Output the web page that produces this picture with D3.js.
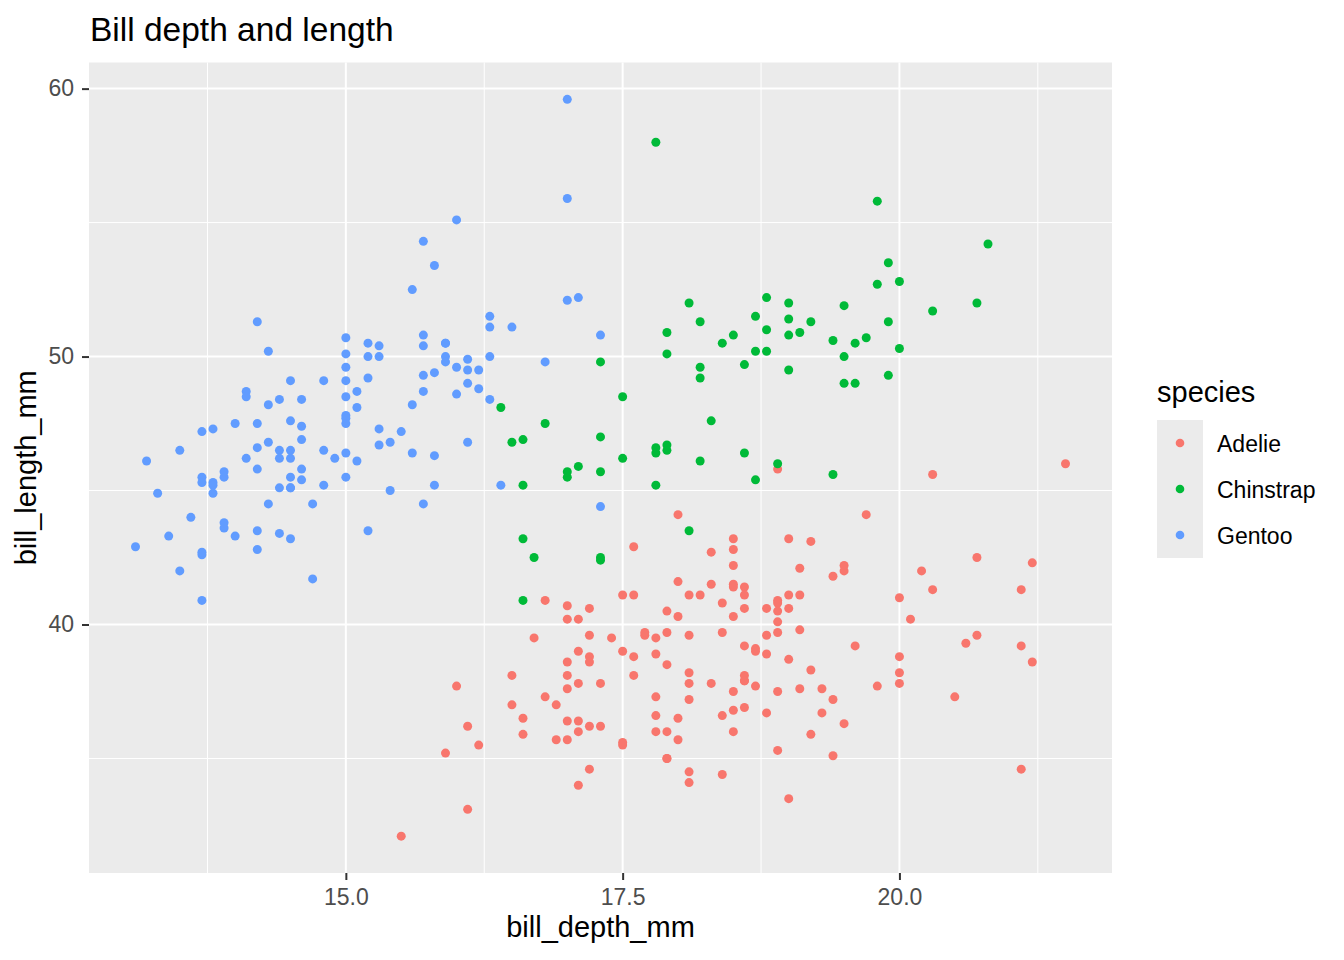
<!DOCTYPE html>
<html>
<head>
<meta charset="utf-8">
<script src="https://cdn.jsdelivr.net/npm/d3@7"></script>
<style>
  body { margin: 0; background: #fff; }
  svg text { font-family: "Liberation Sans", Arial, sans-serif; }
</style>
</head>
<body>
<div id="chart"></div>
<script>
var w = 1344, h = 960;

// Penguin measurements, [bill_depth_mm, bill_length_mm]
var adelie = [
  [18.7,39.1],[17.4,39.5],[18.0,40.3],[19.3,36.7],[20.6,39.3],[17.8,38.9],[19.6,39.2],[18.1,34.1],
  [20.2,42.0],[17.1,37.8],[17.3,37.8],[17.6,41.1],[21.2,38.6],[21.1,34.6],[17.8,36.6],[19.0,38.7],
  [20.7,42.5],[18.4,34.4],[21.5,46.0],[18.3,37.8],[18.7,37.7],[19.2,35.9],[18.1,38.2],[17.2,38.8],
  [18.9,35.3],[18.6,40.6],[17.9,40.5],[18.6,37.9],[18.9,40.5],[16.7,39.5],[18.1,37.2],[17.8,39.5],
  [18.9,40.9],[17.0,36.4],[21.1,39.2],[20.0,38.8],[18.5,42.2],[19.3,37.6],[19.1,39.8],[18.0,36.5],
  [18.4,40.8],[18.5,36.0],[19.7,44.1],[16.9,37.0],[18.8,39.6],[19.0,41.1],[18.9,37.5],[17.9,36.0],
  [21.2,42.3],[17.7,39.6],[18.9,40.1],[17.9,35.0],[19.5,42.0],[18.1,34.5],[18.6,41.4],[17.5,39.0],
  [18.8,40.6],[16.6,36.5],[19.1,37.6],[16.9,35.7],[21.1,41.3],[17.0,37.6],[18.2,41.1],[17.1,36.4],
  [18.0,41.6],[16.2,35.5],[19.1,41.1],[16.6,35.9],[19.4,41.8],[19.0,33.5],[18.4,39.7],[17.2,39.6],
  [18.9,45.8],[17.5,35.5],[18.5,42.8],[16.8,40.9],[19.4,37.2],[16.1,36.2],[19.1,42.1],[17.2,34.6],
  [17.6,42.9],[18.8,36.7],[19.4,35.1],[17.8,37.3],[20.3,41.3],[19.5,36.3],[18.6,36.9],[19.2,38.3],
  [18.8,38.9],[18.0,35.7],[18.1,41.1],[17.1,34.0],[18.1,39.6],[17.3,36.2],[18.9,40.8],[18.6,38.1],
  [18.5,40.3],[16.1,33.1],[18.5,43.2],[17.9,35.0],[20.0,41.0],[16.0,37.7],[20.0,37.8],[18.6,37.9],
  [18.9,39.7],[17.2,38.6],[20.0,38.2],[17.0,38.1],[19.0,43.2],[16.5,38.1],[20.3,45.6],[17.7,39.7],
  [19.5,42.2],[20.7,39.6],[18.3,42.7],[17.0,38.6],[20.5,37.3],[17.0,35.7],[18.6,41.1],[17.2,36.2],
  [19.8,37.7],[17.0,40.2],[18.5,41.4],[15.9,35.2],[19.0,40.6],[17.6,38.8],[18.3,41.5],[17.1,39.0],
  [18.0,44.1],[17.9,38.5],[19.2,43.1],[18.5,36.8],[18.5,37.5],[17.6,38.1],[17.5,41.1],[17.5,35.6],
  [20.1,40.2],[16.5,37.0],[17.9,39.7],[17.1,40.2],[17.2,40.6],[15.5,32.1],[17.0,40.7],[16.8,37.3],
  [18.7,39.0],[18.6,39.2],[18.4,36.6],[17.8,36.0],[18.1,37.8],[17.1,36.0],[18.5,41.5]
];

var chinstrap = [
  [17.9,46.5],[19.5,50.0],[19.2,51.3],[18.7,45.4],[19.8,52.7],[17.8,45.2],[18.2,46.1],[18.2,51.3],
  [18.9,46.0],[19.9,51.3],[17.8,46.6],[20.3,51.7],[17.3,47.0],[18.1,52.0],[17.1,45.9],[19.6,50.5],
  [20.0,50.3],[17.8,58.0],[18.6,46.4],[18.2,49.2],[17.3,42.4],[17.5,48.5],[16.6,43.2],[19.4,50.6],
  [17.9,46.7],[19.0,52.0],[18.4,50.5],[19.0,49.5],[17.8,46.4],[20.0,52.8],[16.6,40.9],[20.8,54.2],
  [16.7,42.5],[18.8,51.0],[18.6,49.7],[16.8,47.5],[18.3,47.6],[20.7,52.0],[16.6,46.9],[19.9,53.5],
  [19.5,49.0],[17.5,46.2],[19.1,50.9],[17.0,45.5],[17.9,50.9],[18.5,50.8],[17.9,50.1],[19.6,49.0],
  [18.7,51.5],[17.3,49.8],[16.4,48.1],[19.0,51.4],[17.3,45.7],[19.7,50.7],[17.3,42.5],[18.8,52.2],
  [16.6,45.2],[19.9,49.3],[18.8,50.2],[19.4,45.6],[19.5,51.9],[16.5,46.8],[17.0,45.7],[19.8,55.8],
  [18.1,43.5],[18.2,49.6],[19.0,50.8],[18.7,50.2]
];

var gentoo = [
  [13.2,46.1],[16.3,50.0],[14.1,48.7],[15.2,50.0],[14.5,47.6],[13.5,46.5],[14.6,45.4],[15.3,46.7],
  [13.4,43.3],[15.4,46.8],[13.7,40.9],[16.1,49.0],[13.7,45.5],[14.6,48.4],[14.6,45.8],[15.7,49.3],
  [13.5,42.0],[15.2,49.2],[14.5,46.2],[15.1,48.7],[14.3,50.2],[14.5,45.1],[14.5,46.5],[15.8,46.3],
  [13.1,42.9],[15.1,46.1],[14.3,44.5],[15.0,47.8],[14.3,48.2],[15.3,50.0],[15.3,47.3],[14.2,42.8],
  [14.5,45.1],[17.0,59.6],[14.8,49.1],[16.3,48.4],[13.7,42.6],[17.3,44.4],[13.6,44.0],[15.7,48.7],
  [13.7,42.7],[16.0,49.6],[13.7,45.3],[15.0,49.6],[15.9,50.5],[13.9,43.6],[13.9,45.5],[15.9,50.5],
  [13.3,44.9],[15.8,45.2],[14.2,46.6],[14.1,48.5],[14.4,45.1],[15.0,50.1],[14.4,46.5],[15.4,45.0],
  [13.9,43.8],[15.0,45.5],[14.5,43.2],[15.3,50.4],[13.8,45.3],[14.9,46.2],[13.9,45.7],[15.7,54.3],
  [14.2,45.8],[16.8,49.8],[14.4,46.2],[16.2,49.5],[14.2,43.5],[15.0,50.7],[15.0,47.7],[15.6,46.4],
  [15.6,48.2],[14.8,46.5],[15.0,46.4],[16.0,48.6],[14.2,47.5],[16.3,51.1],[13.8,45.2],[16.4,45.2],
  [14.5,49.1],[15.6,52.5],[14.6,47.4],[15.9,50.0],[13.8,44.9],[17.3,50.8],[14.4,43.4],[14.2,51.3],
  [14.0,47.5],[17.0,52.1],[15.0,47.5],[17.1,52.2],[14.5,45.5],[16.1,49.5],[14.7,44.5],[15.7,50.8],
  [15.8,49.4],[14.6,46.9],[14.4,48.4],[16.5,51.1],[15.0,48.5],[17.0,55.9],[15.5,47.2],[15.0,49.1],
  [13.8,47.3],[16.1,46.8],[14.7,41.7],[15.8,53.4],[14.0,43.3],[15.1,48.1],[15.2,50.5],[15.9,49.8],
  [15.2,43.5],[16.3,51.5],[14.1,46.2],[16.0,55.1],[15.7,44.5],[16.2,48.8],[13.7,47.2],[14.3,46.8],
  [15.7,50.4],[14.8,45.2],[16.1,49.9]
];

var species = ["Adelie", "Chinstrap", "Gentoo"];
var speciesData = [adelie, chinstrap, gentoo];
var xTicks = [15.0, 17.5, 20.0];
var yTicks = [40, 50, 60];

var panel = { left: 89, right: 1112, top: 62.5, bottom: 873 };

var color = d3.scaleOrdinal()
  .domain(species)
  .range(["#F8766D", "#00BA38", "#619CFF"]);

// ggplot style 5% expansion around the data range
var all = d3.merge(speciesData);
var xExt = d3.extent(all, function(d) { return d[0]; });
var yExt = d3.extent(all, function(d) { return d[1]; });
var xPad = (xExt[1] - xExt[0]) * 0.05, yPad = (yExt[1] - yExt[0]) * 0.05;

var x = d3.scaleLinear()
  .domain([xExt[0] - xPad, xExt[1] + xPad])
  .range([panel.left, panel.right]);
var y = d3.scaleLinear()
  .domain([yExt[0] - yPad, yExt[1] + yPad])
  .range([panel.bottom, panel.top]);

var svg = d3.select("#chart")
  .append("svg")
  .attr("width", w)
  .attr("height", h);

// Panel background
svg.append("rect")
  .attr("x", panel.left)
  .attr("y", panel.top)
  .attr("width", panel.right - panel.left)
  .attr("height", panel.bottom - panel.top)
  .attr("fill", "#EBEBEB");

// Minor grid lines sit halfway between the major ones
var xMinor = [13.75, 16.25, 18.75, 21.25];
var yMinor = [35, 45, 55];

var grid = svg.append("g");
grid.selectAll(".xminor").data(xMinor).enter().append("line")
  .attr("x1", function(d) { return x(d); }).attr("x2", function(d) { return x(d); })
  .attr("y1", panel.top).attr("y2", panel.bottom)
  .attr("stroke", "#fff").attr("stroke-width", 1);
grid.selectAll(".yminor").data(yMinor).enter().append("line")
  .attr("y1", function(d) { return y(d); }).attr("y2", function(d) { return y(d); })
  .attr("x1", panel.left).attr("x2", panel.right)
  .attr("stroke", "#fff").attr("stroke-width", 1);
grid.selectAll(".xmajor").data(xTicks).enter().append("line")
  .attr("x1", function(d) { return x(d); }).attr("x2", function(d) { return x(d); })
  .attr("y1", panel.top).attr("y2", panel.bottom)
  .attr("stroke", "#fff").attr("stroke-width", 2);
grid.selectAll(".ymajor").data(yTicks).enter().append("line")
  .attr("y1", function(d) { return y(d); }).attr("y2", function(d) { return y(d); })
  .attr("x1", panel.left).attr("x2", panel.right)
  .attr("stroke", "#fff").attr("stroke-width", 2);

// Points
speciesData.forEach(function(data, i) {
  svg.append("g")
    .selectAll("circle")
    .data(data)
    .enter()
    .append("circle")
    .attr("cx", function(d) { return x(d[0]); })
    .attr("cy", function(d) { return y(d[1]); })
    .attr("r", 4.5)
    .attr("fill", color(species[i]));
});

// Axes
var xAxis = svg.append("g")
  .attr("transform", "translate(0," + panel.bottom + ")")
  .call(d3.axisBottom(x).tickValues(xTicks).tickFormat(d3.format(".1f")).tickSize(7).tickPadding(9));
var yAxis = svg.append("g")
  .attr("transform", "translate(" + panel.left + ",0)")
  .call(d3.axisLeft(y).tickValues(yTicks).tickFormat(d3.format("d")).tickSize(7).tickPadding(8));

[xAxis, yAxis].forEach(function(a) {
  a.select(".domain").remove();
  a.selectAll(".tick line").attr("stroke", "#333333").attr("stroke-width", 2);
  a.selectAll(".tick text")
    .attr("fill", "#4D4D4D")
    .style("font-size", "23px")
    .style("font-family", '"Liberation Sans", Arial, sans-serif');
});

// Titles
svg.append("text")
  .attr("x", 90)
  .attr("y", 41)
  .style("font-size", "33.5px")
  .text("Bill depth and length");

svg.append("text")
  .attr("x", (panel.left + panel.right) / 2)
  .attr("y", 937)
  .attr("text-anchor", "middle")
  .style("font-size", "29px")
  .text("bill_depth_mm");

svg.append("text")
  .attr("transform", "translate(36," + (panel.top + panel.bottom) / 2 + ") rotate(-90)")
  .attr("text-anchor", "middle")
  .style("font-size", "29px")
  .text("bill_length_mm");

// Legend
var legend = svg.append("g");
legend.append("text")
  .attr("x", 1157)
  .attr("y", 402)
  .style("font-size", "29px")
  .text("species");

legend.append("rect")
  .attr("x", 1157)
  .attr("y", 420)
  .attr("width", 46)
  .attr("height", 138)
  .attr("fill", "#EBEBEB");

var keys = legend.selectAll(".key")
  .data(species)
  .enter()
  .append("g")
  .attr("transform", function(d, i) { return "translate(0," + (443 + i * 46) + ")"; });

keys.append("circle")
  .attr("cx", 1180)
  .attr("cy", 0)
  .attr("r", 4.3)
  .attr("fill", function(d) { return color(d); });

keys.append("text")
  .attr("x", 1217)
  .attr("y", 8.5)
  .style("font-size", "23px")
  .text(function(d) { return d; });
</script>
</body>
</html>
